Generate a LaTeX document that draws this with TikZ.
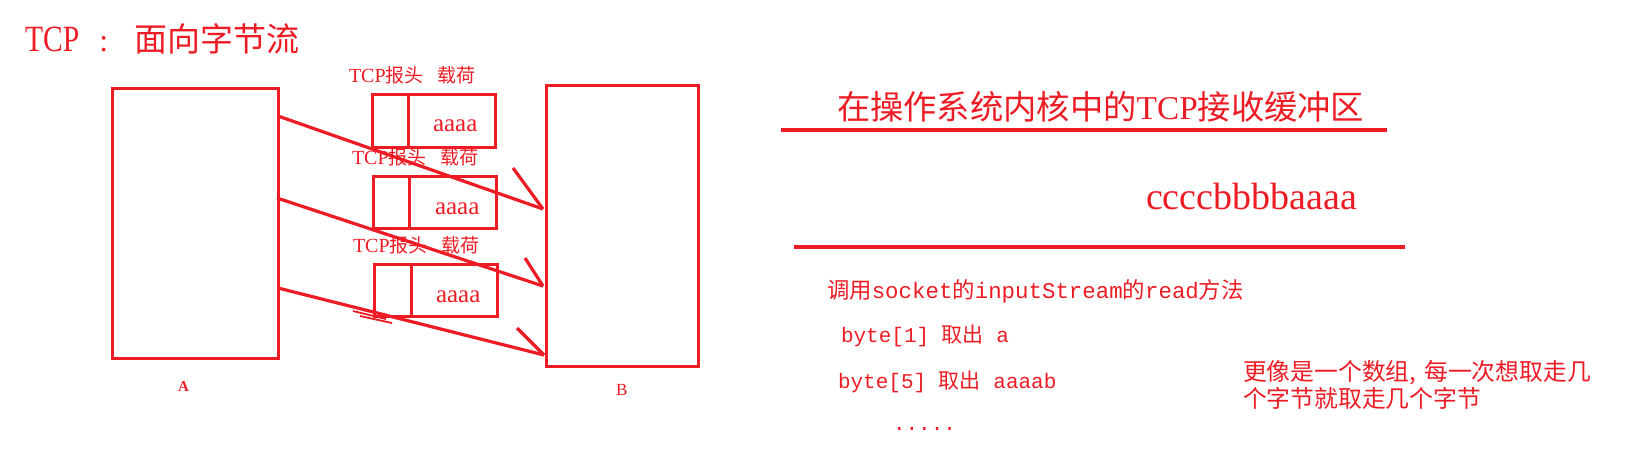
\documentclass[tikz,border=0pt]{standalone}
\usepackage{fontspec}
\setmainfont{Liberation Serif}
\newfontfamily\cjk{Noto Sans CJK SC}
\newfontfamily\lmono{Liberation Mono}
\definecolor{pred}{HTML}{ED1C24}
\begin{document}
\begin{tikzpicture}[x=1pt,y=-1pt,
  every node/.style={text=pred, inner sep=0pt, outer sep=0pt},
  frame/.style={draw=pred, line width=3pt, rectangle, anchor=north west},
  link/.style={draw=pred, line width=3.2pt},
  rule/.style={draw=pred, line width=3.5pt},
  txt/.style={anchor=base west}]
\useasboundingbox (0,0) rectangle (1628,448);

% title
\node[txt] (title) at (25,51) {\scalebox{0.8}[1]{\fontsize{37}{42}\selectfont TCP}\hspace{20pt}{\fontsize{32}{38}\selectfont :}\hspace{26pt}{\cjk\fontsize{33}{38}\selectfont 面向字节流}};

% hosts
\node[frame, minimum width=166pt, minimum height=270pt] (A) at (112,88) {};
\node[frame, minimum width=152pt, minimum height=281pt] (B) at (546,85) {};
\node[txt] (Alab) at (178,391) {\fontsize{15}{18}\selectfont\bfseries A};
\node[txt] (Blab) at (616,395) {\fontsize{17}{20}\selectfont B};

% packets
\node[frame, minimum width=36pt, minimum height=53pt] (h1) at (372,94) {};
\node[frame, minimum width=87pt, minimum height=53pt] (p1) at (408,94) {};
\node[frame, minimum width=36pt, minimum height=52pt] (h2) at (373,176) {};
\node[frame, minimum width=87pt, minimum height=52pt] (p2) at (409,176) {};
\node[frame, minimum width=37pt, minimum height=52pt] (h3) at (374,264) {};
\node[frame, minimum width=86pt, minimum height=52pt] (p3) at (411,264) {};

\node[txt] (d1) at (433,131) {\fontsize{25}{30}\selectfont aaaa};
\node[txt] (d2) at (435,214) {\fontsize{25}{30}\selectfont aaaa};
\node[txt] (d3) at (436,302) {\fontsize{25}{30}\selectfont aaaa};

\node[txt] (l1) at (349,82) {\fontsize{20}{24}\selectfont TCP{\cjk\fontsize{19}{24}\selectfont 报头\hspace{14pt}载荷}};
\node[txt] (l2) at (352,164) {\fontsize{20}{24}\selectfont TCP{\cjk\fontsize{19}{24}\selectfont 报头\hspace{14pt}载荷}};
\node[txt] (l3) at (353,252) {\fontsize{20}{24}\selectfont TCP{\cjk\fontsize{19}{24}\selectfont 报头\hspace{14pt}载荷}};

% arrows
\coordinate (a1) at (278,116);
\coordinate (a2) at (277,198);
\coordinate (a3) at (278,288);
\coordinate (b1) at (543,209);
\coordinate (b2) at (543,286);
\coordinate (b3) at (544,355);
\coordinate (c1) at (513,168);
\coordinate (c2) at (525,258);
\coordinate (c3) at (517,328);
\draw[link] (a1) -- (b1);
\draw[link] (a2) -- (b2);
\draw[link] (a3) -- (b3);
\draw[link] (c1) -- (b1);
\draw[link] (c2) -- (b2);
\draw[link] (c3) -- (b3);
% stray mark
\coordinate (s1) at (353,311);
\coordinate (s2) at (386,319);
\coordinate (s3) at (360,316);
\coordinate (s4) at (392,323);
\draw[draw=pred, line width=1.8pt] (s1) -- (s2);
\draw[draw=pred, line width=1.8pt] (s3) -- (s4);

% right side
\node[txt] (buf) at (837,119) {{\cjk\fontsize{33.3}{38}\selectfont 在操作系统内核中的}{\fontsize{33.3}{38}\selectfont TCP}{\cjk\fontsize{33.3}{38}\selectfont 接收缓冲区}};
\draw[rule] (781,130) -- (1387,130);
\node[txt] (data) at (1146,209) {\fontsize{38}{44}\selectfont ccccbbbbaaaa};
\draw[rule] (794,247) -- (1405,247);

\node[txt] (call) at (827,298) {{\cjk\fontsize{22.4}{26}\selectfont 调用}{\lmono\fontsize{22.4}{26}\selectfont socket}{\cjk\fontsize{22.4}{26}\selectfont 的}{\lmono\fontsize{22.4}{26}\selectfont inputStream}{\cjk\fontsize{22.4}{26}\selectfont 的}{\lmono\fontsize{22.4}{26}\selectfont read}{\cjk\fontsize{22.4}{26}\selectfont 方法}};
\node[txt] (r1) at (841,342) {{\lmono\fontsize{21}{26}\selectfont byte[1] }{\cjk\fontsize{21}{26}\selectfont 取出}{\lmono\fontsize{21}{26}\selectfont{} a}};
\node[txt] (r2) at (838,388) {{\lmono\fontsize{21}{26}\selectfont byte[5] }{\cjk\fontsize{21}{26}\selectfont 取出}{\lmono\fontsize{21}{26}\selectfont{} aaaab}};
\node[txt] (dots) at (893,430) {\lmono\fontsize{21}{26}\selectfont .....};

\node[txt] (n1) at (1243,380) {\cjk\fontsize{23.8}{28}\selectfont 更像是一个数组,\hspace{8pt}每一次想取走几};
\node[txt] (n2) at (1243,407) {\cjk\fontsize{23.8}{28}\selectfont 个字节就取走几个字节};
\end{tikzpicture}
\end{document}
